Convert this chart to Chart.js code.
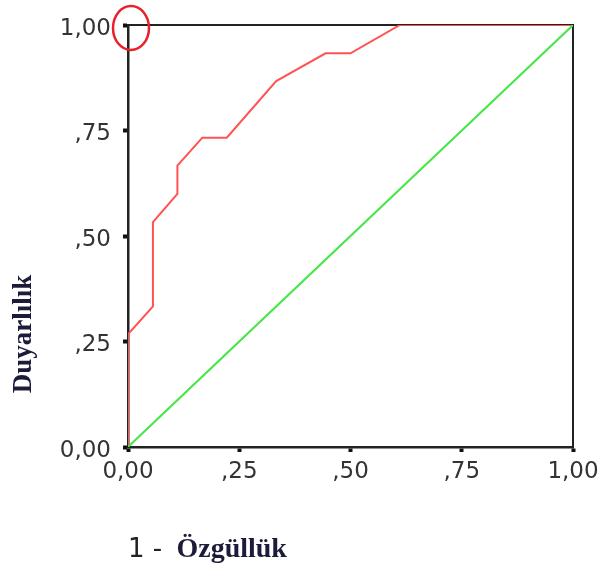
<!DOCTYPE html>
<html>
<head>
<meta charset="utf-8">
<script src="https://cdn.jsdelivr.net/npm/chart.js@4/dist/chart.umd.min.js"></script>
<style>
  html, body { margin: 0; padding: 0; background: #fff; }
  #wrap { width: 600px; height: 568px; position: relative; }
</style>
</head>
<body>
<div id="wrap"><canvas id="roc"></canvas></div>
<script>
// ROC eğrisi verileri (1 - özgüllük, duyarlılık)
const ozgulluk1 = [0, 0, 0.056, 0.056, 0.111, 0.111, 0.167, 0.222, 0.333, 0.444, 0.5, 0.611, 1];
const duyarlilik = [0, 0.267, 0.333, 0.533, 0.6, 0.667, 0.733, 0.733, 0.867, 0.933, 0.933, 1, 1];
// referans çizgisi
const refX = [0, 1];
const refY = [0, 1];
// eksen etiketleri
const tickDegerleri = [0, 0.25, 0.5, 0.75, 1];
const tickEtiketleri = ["0,00", ",25", ",50", ",75", "1,00"];
const yBaslik = "Duyarlılık";
const xBaslikOn = "1 - ";
const xBaslik = "Özgüllük";

const noktalar = (xs, ys) => xs.map((x, i) => ({ x: x, y: ys[i] }));

// çerçeve, işaret halkası ve başlıklar
const ekstraCizim = {
  id: "ekstraCizim",
  beforeDatasetsDraw(chart) {
    const a = chart.chartArea;
    const ctx = chart.ctx;
    ctx.save();
    ctx.strokeStyle = "#222";
    ctx.lineWidth = 2;
    ctx.beginPath();
    ctx.moveTo(a.left, a.top);
    ctx.lineTo(a.right, a.top);
    ctx.lineTo(a.right, a.bottom);
    ctx.stroke();
    ctx.restore();
  },
  afterDraw(chart) {
    const ctx = chart.ctx;
    const sx = chart.scales.x, sy = chart.scales.y;
    ctx.save();
    // kırmızı halka
    ctx.strokeStyle = "#e8212a";
    ctx.lineWidth = 2.5;
    ctx.beginPath();
    ctx.ellipse(sx.getPixelForValue(0) + 3, sy.getPixelForValue(1) + 3, 18, 22, 0, 0, Math.PI * 2);
    ctx.stroke();

    // y başlığı
    ctx.fillStyle = "#1d1b3a";
    ctx.font = "bold 27px 'Liberation Serif', serif";
    ctx.textAlign = "center";
    ctx.textBaseline = "middle";
    ctx.translate(24, 334);
    ctx.rotate(-Math.PI / 2);
    ctx.fillText(yBaslik, 0, 0);
    ctx.restore();

    // x başlığı
    ctx.save();
    ctx.textBaseline = "alphabetic";
    ctx.textAlign = "left";
    ctx.fillStyle = "#222";
    ctx.font = "26px 'DejaVu Sans', sans-serif";
    ctx.fillText(xBaslikOn, 128, 557);
    const w = ctx.measureText(xBaslikOn).width;
    ctx.fillStyle = "#1d1b3a";
    ctx.font = "bold 28px 'Liberation Serif', serif";
    ctx.fillText(xBaslik, 128 + w + 6, 557);
    ctx.restore();
  }
};

const eksen = (konum) => ({
  type: "linear",
  min: 0,
  max: 1,
  position: konum,
  afterBuildTicks: (s) => { s.ticks = tickDegerleri.map((v) => ({ value: v })); },
  border: { display: true, color: "#222", width: 2.5 },
  grid: {
    display: true,
    drawOnChartArea: false,
    drawTicks: true,
    tickLength: 5,
    tickWidth: 4,
    tickColor: "#111"
  },
  ticks: {
    color: "#333",
    font: { family: "'DejaVu Sans', sans-serif", size: 23 },
    callback: (v, i) => tickEtiketleri[i]
  }
});

const xEksen = eksen("bottom");
xEksen.ticks.padding = 6;
xEksen.ticks.maxRotation = 0;
xEksen.afterFit = (s) => { s.height = 121; s.paddingRight = 0; s.paddingLeft = 0; };

const yEksen = eksen("left");
yEksen.ticks.padding = 12;
yEksen.ticks.labelOffset = 4;
yEksen.afterFit = (s) => { s.width = 128; s.paddingTop = 0; s.paddingBottom = 0; };

new Chart(document.getElementById("roc").getContext("2d"), {
  type: "scatter",
  data: {
    datasets: [
      {
        label: "Referans",
        data: noktalar(refX, refY),
        showLine: true,
        borderColor: "#46e646",
        borderWidth: 2,
        pointRadius: 0,
        fill: false
      },
      {
        label: "ROC",
        data: noktalar(ozgulluk1, duyarlilik),
        showLine: true,
        borderColor: "#ff5252",
        borderWidth: 2,
        pointRadius: 0,
        fill: false
      }
    ]
  },
  options: {
    responsive: true,
    maintainAspectRatio: false,
    animation: false,
    layout: { padding: { top: 25, right: 27, left: 0, bottom: 0 } },
    plugins: { legend: { display: false }, tooltip: { enabled: false } },
    scales: { x: xEksen, y: yEksen }
  },
  plugins: [ekstraCizim]
});
</script>
</body>
</html>
